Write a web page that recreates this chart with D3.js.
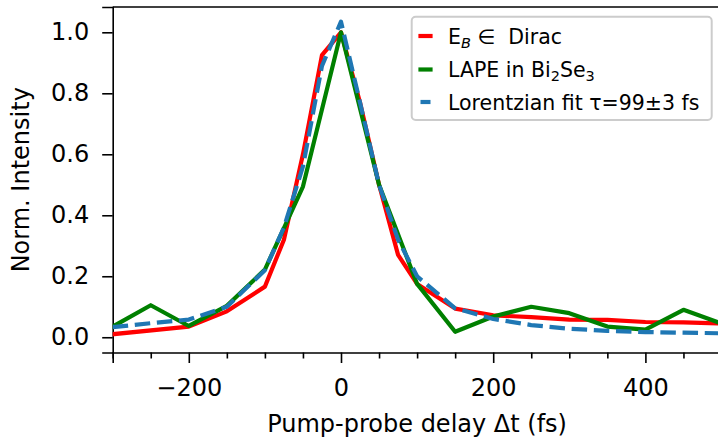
<!DOCTYPE html>
<html>
<head>
<meta charset="utf-8">
<script src="https://cdn.jsdelivr.net/npm/d3@7"></script>
<style>
  body { margin: 0; background: #fff; }
  svg { display: block; font-family: "DejaVu Sans", sans-serif; }
</style>
</head>
<body>
<svg id="chart"></svg>
<script>
// values
const redDelay = [-300, -200, -150, -100, -75, -50, -25, 0, 25, 50, 75, 100, 150, 200, 250, 300, 350, 400, 450, 500];
const redValue = [0.01, 0.035, 0.085, 0.166, 0.32, 0.6, 0.925, 1.0, 0.77, 0.5, 0.27, 0.175, 0.094, 0.072, 0.066, 0.058, 0.057, 0.05, 0.049, 0.045];

const greenDelay = [-300, -250, -200, -150, -100, -50, 0, 50, 100, 150, 200, 250, 300, 350, 400, 450, 500];
const greenValue = [0.035, 0.105, 0.037, 0.103, 0.222, 0.494, 1.0, 0.5, 0.175, 0.018, 0.068, 0.1, 0.079, 0.035, 0.025, 0.09, 0.045];

const fitDelay = [-300, -250, -200, -150, -100, -75, -50, -25, 0, 25, 50, 75, 100, 150, 200, 250, 300, 350, 400, 450, 500];
const fitValue = [0.033, 0.046, 0.058, 0.1, 0.22, 0.36, 0.56, 0.89, 1.035, 0.77, 0.5, 0.32, 0.2, 0.095, 0.06, 0.04, 0.028, 0.021, 0.017, 0.015, 0.013];

const xMajor = [-200, 0, 200, 400];
const xMinor = [-300, -250, -150, -100, -50, 50, 100, 150, 250, 300, 350, 450, 500];
const yTicks = [0.0, 0.2, 0.4, 0.6, 0.8, 1.0];

const width = 718, height = 441;
const axLeft = 112.7, axRight = 721.5, axTop = 7, axBottom = 352.5;
const fs = 24;       // ticks and axis labels
const legendFs = 20.5;

const svg = d3.select("#chart").attr("width", width).attr("height", height);

const x = d3.scaleLinear().domain([-300, 500]).range([axLeft, axRight]);
const y = d3.scaleLinear().domain([-0.05, 1.083]).range([axBottom, axTop]);

svg.append("clipPath").attr("id", "clip")
    .append("rect")
    .attr("x", axLeft).attr("y", axTop)
    .attr("width", axRight - axLeft).attr("height", axBottom - axTop);

// axes
const xAxis = svg.append("g")
    .attr("transform", `translate(0,${axBottom})`)
    .call(d3.axisBottom(x).tickValues(xMajor).tickSize(10.5)
        .tickFormat(d => d3.format("d")(d).replace("-", "\u2212")));
svg.append("g")
    .attr("transform", `translate(0,${axBottom})`)
    .call(d3.axisBottom(x).tickValues(xMinor).tickSize(6).tickFormat(""))
    .call(g => g.select(".domain").remove());

const yAxis = svg.append("g")
    .attr("transform", `translate(${axLeft},0)`)
    .call(d3.axisLeft(y).tickValues(yTicks).tickSize(10.5).tickPadding(13)
        .tickFormat(d3.format(".1f")));

svg.selectAll(".tick line").attr("stroke", "#000").attr("stroke-width", 1.6);
svg.selectAll(".domain").attr("stroke", "#000").attr("stroke-width", 1.6);
svg.selectAll(".tick text")
    .attr("font-family", "DejaVu Sans")
    .attr("font-size", fs)
    .attr("fill", "#000");
xAxis.selectAll(".tick text").attr("y", 43).attr("dy", null);

// top and right spines
svg.append("line")
    .attr("x1", axLeft).attr("x2", axRight)
    .attr("y1", axTop).attr("y2", axTop)
    .attr("stroke", "#000").attr("stroke-width", 1.6);
svg.append("line")
    .attr("x1", axRight).attr("x2", axRight)
    .attr("y1", axTop).attr("y2", axBottom)
    .attr("stroke", "#000").attr("stroke-width", 1.6);

// lines
const line = d3.line().x(d => x(d[0])).y(d => y(d[1]));
const plot = svg.append("g").attr("clip-path", "url(#clip)");
const lw = 4.2;

plot.append("path")
    .datum(d3.zip(redDelay, redValue))
    .attr("d", line)
    .attr("fill", "none").attr("stroke", "#ff0000")
    .attr("stroke-width", lw).attr("stroke-linejoin", "round").attr("stroke-linecap", "square");

plot.append("path")
    .datum(d3.zip(greenDelay, greenValue))
    .attr("d", line)
    .attr("fill", "none").attr("stroke", "#008000")
    .attr("stroke-width", lw).attr("stroke-linejoin", "round").attr("stroke-linecap", "square");

plot.append("path")
    .datum(d3.zip(fitDelay, fitValue))
    .attr("d", line)
    .attr("fill", "none").attr("stroke", "#1f77b4")
    .attr("stroke-width", lw).attr("stroke-linejoin", "round").attr("stroke-linecap", "butt")
    .attr("stroke-dasharray", "15.5,6.7");

// axis labels
svg.append("text")
    .attr("x", (axLeft + axRight) / 2).attr("y", 432)
    .attr("text-anchor", "middle")
    .attr("font-size", fs)
    .text("Pump-probe delay \u0394t (fs)");

svg.append("text")
    .attr("transform", `translate(29,${(axTop + axBottom) / 2}) rotate(-90)`)
    .attr("text-anchor", "middle")
    .attr("font-size", fs)
    .text("Norm. Intensity");

// legend
const legend = svg.append("g");
legend.append("rect")
    .attr("x", 411.7).attr("y", 16.7)
    .attr("width", 300).attr("height", 103.3)
    .attr("rx", 4).attr("ry", 4)
    .attr("fill", "rgba(255,255,255,0.8)")
    .attr("stroke", "#cccccc").attr("stroke-width", 2);

const rows = [
    {color: "#ff0000", dash: null, y: 36},
    {color: "#008000", dash: null, y: 69.5},
    {color: "#1f77b4", dash: "15.5,6.7", y: 102}
];
rows.forEach(r => {
    legend.append("line")
        .attr("x1", 420.5).attr("x2", 430.5)
        .attr("y1", r.y).attr("y2", r.y)
        .attr("stroke", r.color).attr("stroke-width", lw)
        .attr("stroke-linecap", r.dash ? "butt" : "square")
        .attr("stroke-dasharray", r.dash);
});

const t1 = legend.append("text").attr("x", 448).attr("y", rows[0].y + 7.5)
    .attr("font-size", legendFs).style("white-space", "pre");
t1.append("tspan").text("E");
t1.append("tspan").attr("font-size", 14.5).attr("font-style", "oblique").attr("dy", 4).text("B");
t1.append("tspan").attr("dy", -4).text(" \u2208  Dirac");

const t2 = legend.append("text").attr("x", 448).attr("y", rows[1].y + 7.5).attr("font-size", legendFs);
t2.append("tspan").text("LAPE in Bi");
t2.append("tspan").attr("font-size", 14.5).attr("dy", 4).text("2");
t2.append("tspan").attr("dy", -4).text("Se");
t2.append("tspan").attr("font-size", 14.5).attr("dy", 4).text("3");

legend.append("text").attr("x", 448).attr("y", rows[2].y + 7.5).attr("font-size", legendFs)
    .text("Lorentzian fit \u03c4=99\u00b13 fs");
</script>
</body>
</html>
